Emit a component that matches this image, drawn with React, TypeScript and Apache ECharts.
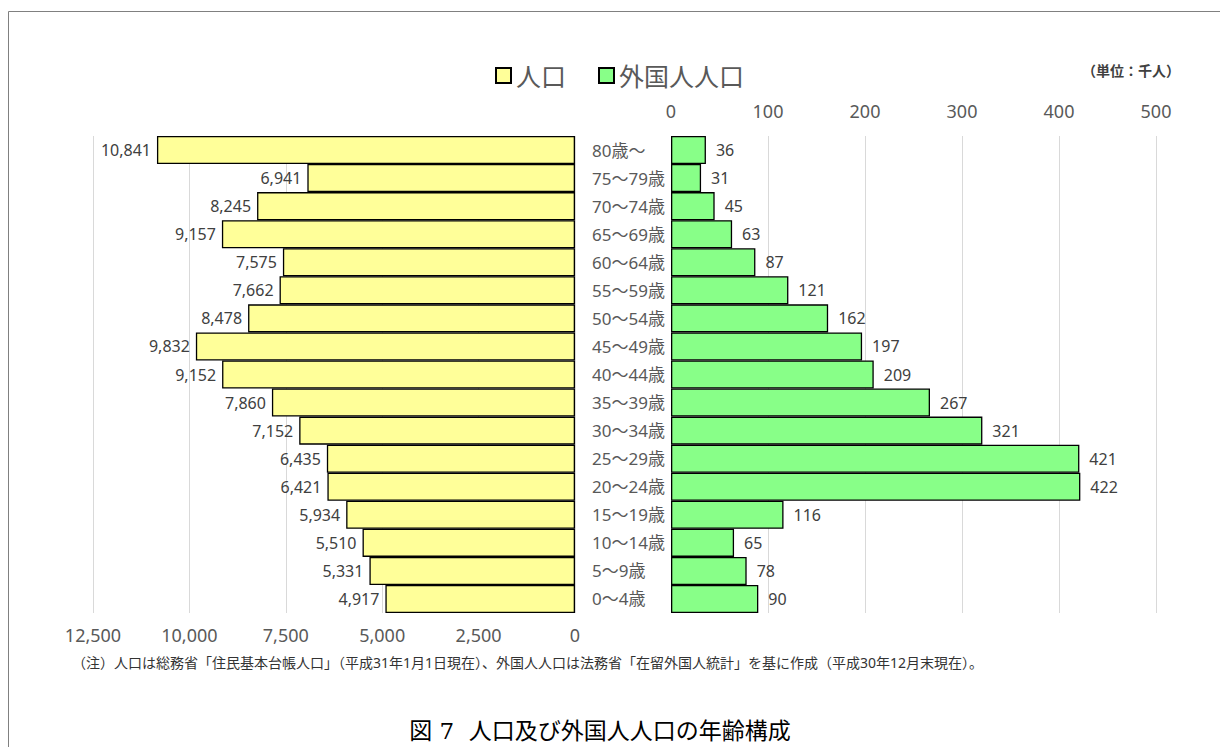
import React, { useEffect, useRef } from "react";
import * as echarts from "echarts";

const categories = ["80歳～", "75～79歳", "70～74歳", "65～69歳", "60～64歳", "55～59歳", "50～54歳", "45～49歳", "40～44歳", "35～39歳", "30～34歳", "25～29歳", "20～24歳", "15～19歳", "10～14歳", "5～9歳", "0～4歳"];
const population = [10841, 6941, 8245, 9157, 7575, 7662, 8478, 9832, 9152, 7860, 7152, 6435, 6421, 5934, 5510, 5331, 4917];
const foreignPopulation = [36, 31, 45, 63, 87, 121, 162, 197, 209, 267, 321, 421, 422, 116, 65, 78, 90];
const seriesNames = ["人口", "外国人人口"];
const unitLabel = "（単位：千人）";
const noteText = "（注）人口は総務省「住民基本台帳人口」（平成31年1月1日現在）、外国人人口は法務省「在留外国人統計」を基に作成（平成30年12月末現在）。";
const figureTitle = "図 7  人口及び外国人人口の年齢構成";

const FONT = "'Noto Sans', 'Noto Sans CJK JP', sans-serif";
const GRAY = "#595959";

export default function App() {
  const ref = useRef<HTMLDivElement>(null);
  useEffect(() => {
    if (!ref.current) return;
    const chart = echarts.init(ref.current, undefined, { renderer: "svg" });
    const fmt = (v: number) => v.toLocaleString("en-US");
    chart.setOption({
      animation: false,
      textStyle: { fontFamily: FONT },
      legend: {
        data: seriesNames,
        left: 490,
        top: 58,
        icon: "rect",
        itemWidth: 15,
        itemHeight: 15,
        itemGap: 32,
        textStyle: { fontSize: 25, color: GRAY, fontFamily: FONT },
      },
      grid: [
        { left: 93, width: 482, top: 136, height: 477 },
        { left: 671, width: 485, top: 136, height: 477 },
      ],
      xAxis: [
        {
          gridIndex: 0,
          type: "value",
          inverse: true,
          min: 0,
          max: 12500,
          interval: 2500,
          position: "bottom",
          axisLine: { show: false },
          axisTick: { show: false },
          axisLabel: { color: GRAY, fontSize: 18, margin: 13, formatter: (v: number) => fmt(v) },
          splitLine: { lineStyle: { color: "#d9d9d9" } },
        },
        {
          gridIndex: 1,
          type: "value",
          min: 0,
          max: 500,
          interval: 100,
          position: "top",
          axisLine: { show: false },
          axisTick: { show: false },
          axisLabel: { color: GRAY, fontSize: 18, margin: 16 },
          splitLine: { lineStyle: { color: "#d9d9d9" } },
        },
      ],
      yAxis: [
        {
          gridIndex: 0,
          type: "category",
          data: categories,
          inverse: true,
          position: "right",
          axisLine: { show: false },
          axisTick: { show: false },
          axisLabel: { show: false },
        },
        {
          gridIndex: 1,
          type: "category",
          data: categories,
          inverse: true,
          position: "left",
          axisLine: { show: false },
          axisTick: { show: false },
          axisLabel: { color: GRAY, fontSize: 17, align: "left", margin: 79 },
        },
      ],
      series: [
        {
          name: seriesNames[0],
          type: "bar",
          xAxisIndex: 0,
          yAxisIndex: 0,
          data: population,
          barCategoryGap: "0%",
          itemStyle: { color: "#FFFF99", borderColor: "#000", borderWidth: 1.3 },
          label: {
            show: true,
            position: "left",
            distance: 6,
            color: "#404040",
            fontSize: 16,
            formatter: (p: any) => fmt(p.value),
          },
        },
        {
          name: seriesNames[1],
          type: "bar",
          xAxisIndex: 1,
          yAxisIndex: 1,
          data: foreignPopulation,
          barCategoryGap: "0%",
          itemStyle: { color: "#88FF88", borderColor: "#000", borderWidth: 1.3 },
          label: {
            show: true,
            position: "right",
            distance: 10,
            color: "#404040",
            fontSize: 16,
          },
        },
      ],
      graphic: [
        {
          type: "rect",
          silent: true,
          shape: { x: 8.5, y: 11.5, width: 1400, height: 900 },
          style: { fill: "none", stroke: "#808080", lineWidth: 1 },
        },
        {
          type: "text",
          x: 1082,
          y: 63,
          style: { text: unitLabel, fontSize: 14, fontWeight: "bold", fill: "#404040", fontFamily: FONT },
        },
        {
          type: "text",
          x: 72,
          y: 655,
          style: { text: noteText, fontSize: 14, fill: "#333", fontFamily: FONT },
        },
        {
          type: "text",
          x: 600,
          y: 731,
          style: {
            text: figureTitle,
            fontSize: 23,
            fill: "#000",
            align: "center",
            verticalAlign: "middle",
            fontFamily: "'DejaVu Serif', 'Noto Sans CJK JP', serif",
          },
        },
      ],
    });
    return () => chart.dispose();
  }, []);
  return <div ref={ref} style={{ position: "fixed", left: 0, top: 0, width: 1220, height: 747, background: "#fff" }} />;
}
